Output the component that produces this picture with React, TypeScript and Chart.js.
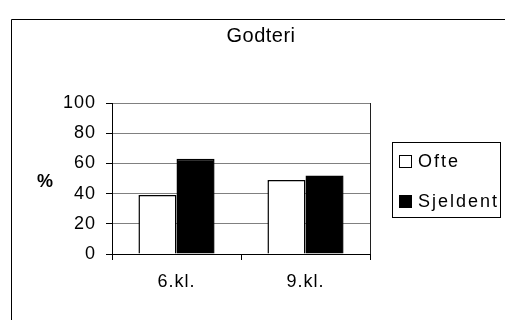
import React, { useEffect, useRef } from "react";
import { Chart, registerables } from "chart.js";

Chart.register(...registerables);

const title = "Godteri";
const yTitle = "%";
const categories = ["6.kl.", "9.kl."];
const seriesNames = ["Ofte", "Sjeldent"];
const ofte = [39, 49];
const sjeldent = [63, 52];
const yTicks = [0, 20, 40, 60, 80, 100];

const FONT = "'Liberation Sans', Arial, sans-serif";

const decor = {
  id: "decor",
  beforeDraw(chart: any) {
    const ctx = chart.ctx;
    ctx.save();
    ctx.fillStyle = "#ffffff";
    ctx.fillRect(0, 0, chart.width, chart.height);
    ctx.restore();
    // slightly wider text, as in the reference
    (ctx as any).letterSpacing = "1px";
  },
  afterDraw(chart: any) {
    const ctx = chart.ctx;
    const area = chart.chartArea;
    ctx.save();
    // outer frame
    ctx.strokeStyle = "#000000";
    ctx.lineWidth = 1;
    ctx.beginPath();
    ctx.moveTo(11.5, chart.height + 2);
    ctx.lineTo(11.5, 19.5);
    ctx.lineTo(chart.width + 2, 19.5);
    ctx.stroke();
    // plot right border
    ctx.strokeStyle = "#202020";
    ctx.beginPath();
    ctx.moveTo(Math.round(area.right) + 0.5, area.top);
    ctx.lineTo(Math.round(area.right) + 0.5, area.bottom);
    ctx.stroke();
    // title
    ctx.fillStyle = "#000000";
    (ctx as any).letterSpacing = "0.5px";
    ctx.font = `20px ${FONT}`;
    ctx.textAlign = "left";
    ctx.textBaseline = "middle";
    const tw = ctx.measureText(title).width;
    ctx.fillText(title, 261 - tw / 2, 36);
    // y title
    (ctx as any).letterSpacing = "0px";
    ctx.textAlign = "center";
    ctx.font = `bold 18px ${FONT}`;
    ctx.fillText(yTitle, 45, 182);
    // legend
    const lx = 392.5, ly = 142.5, lw = 108, lh = 75;
    ctx.strokeStyle = "#000000";
    ctx.lineWidth = 1;
    ctx.strokeRect(lx, ly, lw, lh);
    const rows = [162, 202];
    chart.data.datasets.forEach((ds: any, i: number) => {
      const cy = rows[i];
      ctx.fillStyle = ds.backgroundColor;
      ctx.fillRect(399.5, cy - 6.5, 12, 12);
      ctx.strokeStyle = "#000000";
      ctx.strokeRect(399.5, cy - 6.5, 12, 12);
      ctx.fillStyle = "#000000";
      (ctx as any).letterSpacing = "2px";
      ctx.font = `18px ${FONT}`;
      ctx.textAlign = "left";
      ctx.textBaseline = "middle";
      ctx.fillText(ds.label, 418, cy);
    });
    ctx.restore();
    (ctx as any).letterSpacing = "0px";
  },
};

export default function App() {
  const ref = useRef<HTMLCanvasElement | null>(null);
  useEffect(() => {
    if (!ref.current) return;
    const chart = new Chart(ref.current, {
      type: "bar",
      data: {
        labels: categories,
        datasets: [
          {
            label: seriesNames[0],
            data: ofte,
            backgroundColor: "#ffffff",
            borderColor: "#000000",
            borderWidth: 1.5,
          },
          {
            label: seriesNames[1],
            data: sjeldent,
            backgroundColor: "#000000",
            borderColor: "#000000",
            borderWidth: 1.5,
          },
        ],
      },
      options: {
        animation: false,
        responsive: false,
        maintainAspectRatio: false,
        events: [],
        layout: { padding: { left: 0, right: 135, top: 103, bottom: 0 } },
        datasets: { bar: { categoryPercentage: 0.59, barPercentage: 1 } },
        plugins: {
          legend: { display: false },
          title: { display: false },
          tooltip: { enabled: false },
        },
        scales: {
          x: {
            afterFit(scale: any) {
              scale.height = 66;
            },
            grid: {
              display: true,
              drawOnChartArea: false,
              offset: true,
              tickLength: 6,
              color: "#000000",
            },
            border: { display: true, color: "#000000", width: 1 },
            ticks: {
              color: "#000000",
              font: { family: FONT, size: 18 },
              padding: 11,
              maxRotation: 0,
            },
          },
          y: {
            min: 0,
            max: 100,
            afterFit(scale: any) {
              scale.width = 112;
            },
            afterBuildTicks(scale: any) {
              scale.ticks = yTicks.map((v) => ({ value: v }));
            },
            grid: {
              color: "#808080",
              tickColor: "#000000",
              tickLength: 6,
            },
            border: { display: true, color: "#000000", width: 1 },
            ticks: {
              color: "#000000",
              font: { family: FONT, size: 18 },
              padding: 10,
            },
          },
        },
      },
      plugins: [decor],
    });
    return () => chart.destroy();
  }, []);
  return (
    <div style={{ position: "absolute", left: 0, top: 0, width: 505, height: 320 }}>
      <canvas ref={ref} width={505} height={320} style={{ width: 505, height: 320, display: "block" }} />
    </div>
  );
}
